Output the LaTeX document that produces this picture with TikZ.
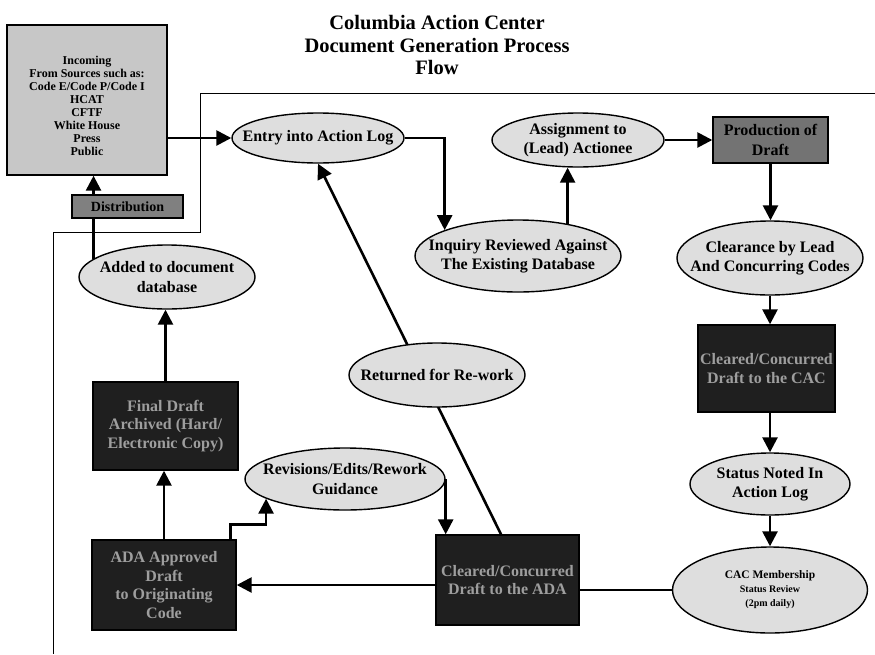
\documentclass[tikz,border=0pt]{standalone}
\usepackage{fontspec}
\setmainfont{Liberation Serif}
\usetikzlibrary{shapes.geometric,arrows.meta,calc}
\begin{document}
\begin{tikzpicture}[x=1pt,y=-1pt,
  ell/.style={ellipse, draw=black, line width=1.4pt, fill=black!13, inner sep=0pt},
  etxt/.style={font=\fontsize{16}{19.5}\selectfont\bfseries, align=center, inner sep=0pt},
  dbox/.style={rectangle, draw=black, line width=1.4pt, fill=black!88, text=black!38,
    font=\fontsize{16}{18.5}\selectfont\bfseries, align=center, inner sep=2pt},
  gbox/.style={rectangle, draw=black, line width=1.4pt, fill=black!55,
    font=\fontsize{16}{19.5}\selectfont\bfseries, align=center, inner sep=2pt},
  arr/.style={line width=2.6pt, -{Triangle[length=15pt,width=15pt]}},
  plainline/.style={line width=2.6pt},
  frameline/.style={line width=0.8pt}
]
\fill[white] (0,0) rectangle (875,654);
\useasboundingbox (0,0) rectangle (875,654);

% thin frame
\draw[frameline] (875,93) -- (200,93) -- (200,232) -- (53,232) -- (53,654);

% title
\node[font=\fontsize{20.5}{22.5}\selectfont\bfseries, align=center] (title) at (437,45)
  {Columbia Action Center\\Document Generation Process\\Flow};

% incoming box
\node[rectangle, draw=black, line width=1.4pt, fill=black!22, minimum width=160pt,
  minimum height=150pt, inner sep=0pt] (inc) at (87,100) {};
\node[font=\fontsize{12}{13}\selectfont\bfseries, align=center, inner sep=0pt] (inct) at (87,106)
  {Incoming\\From Sources such as:\\Code E/Code P/Code I\\HCAT\\CFTF\\White House\\Press\\Public};

% ellipses
\node[ell, minimum width=172pt, minimum height=50pt] (entry) at (318,138) {};
\node[etxt] (entryt) at (entry) {Entry into Action Log};
\node[ell, minimum width=206pt, minimum height=72pt] (inq) at (518,256) {};
\node[etxt] (inqt) at (inq) {Inquiry Reviewed Against\\The Existing Database};
\node[ell, minimum width=172pt, minimum height=54pt] (asg) at (578,140) {};
\node[etxt] (asgt) at (asg) {Assignment to\\(Lead) Actionee};
\node[ell, minimum width=186pt, minimum height=74pt] (clr) at (770,258) {};
\node[etxt] (clrt) at (clr) {Clearance by Lead\\And Concurring Codes};
\node[ell, minimum width=160pt, minimum height=62pt] (stat) at (770,484) {};
\node[etxt] (statt) at (stat) {Status Noted In\\Action Log};
\node[ell, minimum width=195pt, minimum height=86pt] (cac) at (770,590) {};
\node[font=\fontsize{10}{14}\selectfont\bfseries, align=center, inner sep=0pt] (cact) at (cac)
  {{\fontsize{11.5}{14}\selectfont CAC Membership}\\Status Review\\(2pm daily)};
\node[ell, minimum width=176pt, minimum height=64pt] (add) at (167,277) {};
\node[etxt] (addt) at (add) {Added to document\\database};
\node[ell, minimum width=200pt, minimum height=62pt] (rev) at (345,479) {};
\node[etxt] (revt) at (rev) {Revisions/Edits/Rework\\Guidance};

% boxes
\node[gbox, minimum width=115pt, minimum height=46pt] (prod) at (770.5,140) {Production of\\Draft};
\node[dbox, minimum width=137pt, minimum height=87pt] (ccac) at (766.5,368.5) {Cleared/Concurred\\Draft to the CAC};
\node[dbox, minimum width=143pt, minimum height=90pt] (cada) at (507.5,580) {Cleared/Concurred\\Draft to the ADA};
\node[dbox, minimum width=144pt, minimum height=90pt] (ada) at (164,585) {ADA Approved\\Draft\\to Originating\\Code};
\node[dbox, minimum width=145pt, minimum height=88pt] (fin) at (165.5,426) {Final Draft\\Archived (Hard/\\Electronic Copy)};

% connectors
\draw[arr] (inc.east |- entry.west) -- (entry.west);
\draw[arr] (entry.east) -| (inq.north west);
\draw[arr] (inq.33) -- (inq.33 |- asg.south);
\draw[arr] (asg.east) -- (prod.west);
\draw[arr] (prod.south) -- (prod.south |- clr.north);
\draw[arr] (clr.south) -- (clr.south |- ccac.north);
\draw[arr] (stat.north |- ccac.south) -- (stat.north);
\draw[arr] (stat.south) -- (cac.north);
\draw[plainline] (cac.west) -- (cac.west -| cada.east);
\draw[arr] (cada.west |- ada.east) -- (ada.east);
\draw[arr] (ada.north) -- (ada.north |- fin.south);
\draw[arr] (fin.north) -- (fin.north |- add.south);
\draw[arr] (add.166) -- (add.166 |- inc.south);
\coordinate (adaR) at ($(ada.north east)+(-6,0)$);
\draw[arr] (adaR) -- ++(0,-15) -| (rev.194);
\draw[arr] (rev.east) -- (rev.east |- cada.north);
\coordinate (cadaT) at ($(cada.north west)!0.455!(cada.north east)$);
\draw[arr] (cadaT) -- (entry.south);

% nodes sitting on connectors
\node[gbox, fill=black!50, minimum width=111pt, minimum height=23pt, inner sep=1pt,
  font=\fontsize{14}{16}\selectfont\bfseries] (dist) at (127.5,206.5) {Distribution};
\node[ell, minimum width=176pt, minimum height=64pt] (ret) at (437,375) {};
\node[etxt] (rett) at (ret) {Returned for Re-work};
\end{tikzpicture}
\end{document}
